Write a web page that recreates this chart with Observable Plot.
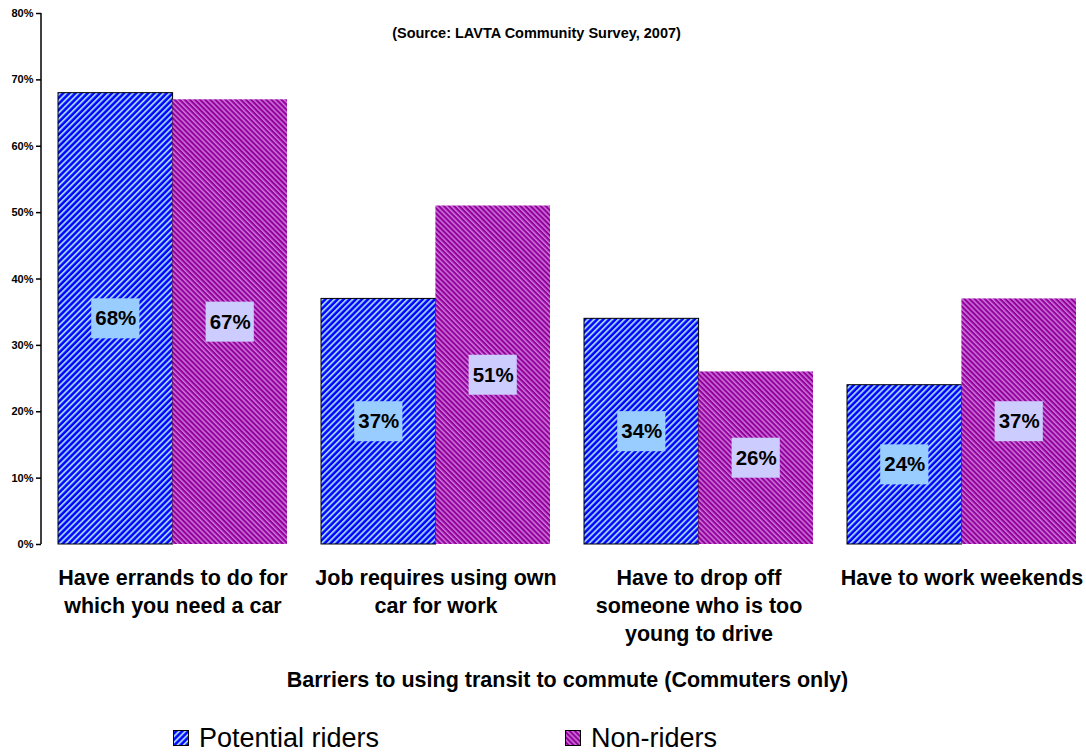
<!DOCTYPE html>
<html>
<head>
<meta charset="utf-8">
<script src="https://cdn.jsdelivr.net/npm/d3@7"></script>
<script src="https://cdn.jsdelivr.net/npm/@observablehq/plot@0.6"></script>
<style>
  body { margin: 0; background: white; font-family: "Liberation Sans", Arial, sans-serif; }
  #wrap { position: relative; width: 1086px; height: 753px; color: black; }
  #legend { position: absolute; top: 722px; left: 0; width: 1086px; height: 32px; font-size: 27px; color: black; }
  .item { position: absolute; top: 0; height: 32px; display: flex; align-items: center; }
  .item svg { margin-right: 10px; display: block; }
</style>
</head>
<body>
<div id="wrap"></div>
<script>
// ---- data ----
const categories = [
  "Have errands to do for\nwhich you need a car",
  "Job requires using own\ncar for work",
  "Have to drop off\nsomeone who is too\nyoung to drive",
  "Have to work weekends"
];
const seriesNames = ["Potential riders", "Non-riders"];
const potentialRiders = [0.68, 0.37, 0.34, 0.24];
const nonRiders = [0.67, 0.51, 0.26, 0.37];
const yTicks = [0, 0.1, 0.2, 0.3, 0.4, 0.5, 0.6, 0.7, 0.8];
const titleText = "(Source: LAVTA Community Survey, 2007)";
const xTitle = "Barriers to using transit to commute (Commuters only)";

const rows = categories.flatMap((c, i) => [
  {category: c, series: seriesNames[0], value: potentialRiders[i]},
  {category: c, series: seriesNames[1], value: nonRiders[i]}
]);
const pot = rows.filter(d => d.series === seriesNames[0]);
const non = rows.filter(d => d.series === seriesNames[1]);

// ---- layout ----
const W = 1086, H = 700, mL = 41, mR = -7, mT = 13, mB = 156;
const pInner = 0.13, pOuter = 0.065;
const step = (W - mL - mR) / (categories.length - pInner + 2 * pOuter);
const bw = step * (1 - pInner);
const half = bw / 2;
const boxW = 48, boxH = 40;
const boxIn = (half - boxW) / 2;
const font = '"Liberation Sans", Arial, sans-serif';

const defsMark = () => {
  const defs = d3.create("svg:defs");
  const p1 = defs.append("pattern").attr("id", "hatchBlue").attr("patternUnits", "userSpaceOnUse")
    .attr("width", 4.3).attr("height", 10).attr("patternTransform", "rotate(45)");
  p1.append("rect").attr("width", 4.3).attr("height", 10).attr("fill", "#0000ff");
  p1.append("rect").attr("width", 1.9).attr("height", 10).attr("fill", "#99ccff");
  const p2 = defs.append("pattern").attr("id", "hatchPurple").attr("patternUnits", "userSpaceOnUse")
    .attr("width", 3.6).attr("height", 10).attr("patternTransform", "rotate(-45)");
  p2.append("rect").attr("width", 3.6).attr("height", 10).attr("fill", "#93009a");
  p2.append("rect").attr("width", 1.5).attr("height", 10).attr("fill", "#cc77dd");
  return defs.node();
};

const axisLine = (index, scales, values, dims) => {
  return d3.create("svg:line")
    .attr("x1", dims.marginLeft).attr("x2", dims.marginLeft)
    .attr("y1", scales.y(0)).attr("y2", scales.y(0.8))
    .attr("stroke", "black").attr("stroke-width", 1.5).node();
};

const chart = Plot.plot({
  width: W, height: H,
  marginLeft: mL, marginRight: mR, marginTop: mT, marginBottom: mB,
  style: {fontFamily: font, color: "black", background: "white", overflow: "visible"},
  x: {domain: categories, paddingInner: pInner, paddingOuter: pOuter, axis: null},
  y: {domain: [0, 0.8], axis: null},
  marks: [
    defsMark,
    Plot.barY(pot, {x: "category", y: "value", fill: "url(#hatchBlue)", stroke: "black", strokeWidth: 1, insetRight: half}),
    Plot.barY(non, {x: "category", y: "value", fill: "url(#hatchPurple)", insetLeft: half}),
    Plot.barY(pot, {x: "category", y1: d => d.value / 2, y2: d => d.value / 2,
      insetTop: -boxH / 2, insetBottom: -boxH / 2, insetLeft: boxIn, insetRight: half + boxIn, fill: "#99ccff"}),
    Plot.barY(non, {x: "category", y1: d => d.value / 2, y2: d => d.value / 2,
      insetTop: -boxH / 2, insetBottom: -boxH / 2, insetLeft: half + boxIn, insetRight: boxIn, fill: "#ccccff"}),
    Plot.text(pot, {x: "category", y: d => d.value / 2, text: d => d3.format(".0%")(d.value), dx: -half / 2,
      fontSize: 20.5, fontWeight: "bold", fill: "black"}),
    Plot.text(non, {x: "category", y: d => d.value / 2, text: d => d3.format(".0%")(d.value), dx: half / 2,
      fontSize: 20.5, fontWeight: "bold", fill: "black"}),
    axisLine,
    Plot.axisY(yTicks, {label: null, tickFormat: d3.format(".0%"), tickSize: 5, tickPadding: 3, fontSize: 11, fontWeight: "bold", stroke: "black", strokeWidth: 1.5, fill: "black"}),
    Plot.text(categories, {x: d => d, frameAnchor: "bottom", lineAnchor: "top", dy: 21, lineHeight: 28 / 21.5,
      fontSize: 21.5, fontWeight: "bold", fill: "black"}),
    Plot.text([titleText], {frameAnchor: "top", dy: 14, dx: -31, fontSize: 14.5, fontWeight: "bold", fill: "black"}),
    Plot.text([xTitle], {frameAnchor: "bottom", dy: 142, fontSize: 21.5, fontWeight: "bold", fill: "black"})
  ]
});

const wrap = document.getElementById("wrap");
wrap.appendChild(chart);

// legend
const legend = document.createElement("div");
legend.id = "legend";
const legendPos = [173, 565];
const pats = ["hatchBlue", "hatchPurple"];
seriesNames.forEach((name, i) => {
  const item = document.createElement("div");
  item.className = "item";
  item.style.left = legendPos[i] + "px";
  const sw = d3.create("svg").attr("width", 16).attr("height", 16);
  sw.append("rect").attr("x", 0.5).attr("y", 0.5).attr("width", 15).attr("height", 15)
    .attr("fill", `url(#${pats[i]})`).attr("stroke", "black").attr("stroke-width", 1);
  item.appendChild(sw.node());
  const t = document.createElement("span");
  t.textContent = name;
  item.appendChild(t);
  legend.appendChild(item);
});
wrap.appendChild(legend);
</script>
</body>
</html>
